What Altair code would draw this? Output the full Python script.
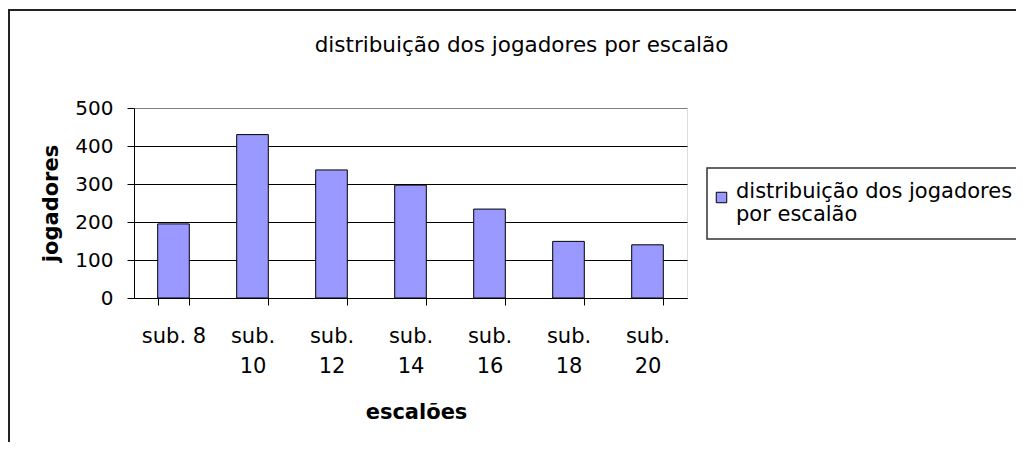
import altair as alt
import pandas as pd

categories = ["sub. 8", "sub. 10", "sub. 12", "sub. 14", "sub. 16", "sub. 18", "sub. 20"]
values = [195, 430, 337, 297, 234, 149, 140]
series_name = "distribuição dos jogadores por escalão"
chart_title = "distribuição dos jogadores por escalão"
x_title = "escalões"
y_title = "jogadores"
y_ticks = [0, 100, 200, 300, 400, 500]

FONT = "DejaVu Sans"

df = pd.DataFrame({
    "escalao": categories,
    "jogadores": values,
    "serie": [series_name] * len(categories),
})

bars = alt.Chart(df).mark_bar(stroke="black", strokeWidth=1, opacity=1).encode(
    x=alt.X(
        "escalao:N",
        sort=categories,
        scale=alt.Scale(paddingInner=0.6, paddingOuter=0.3),
        axis=alt.Axis(
            title=x_title,
            labelAngle=0,
            labelExpr="datum.label == 'sub. 8' ? datum.label : split(datum.label, ' ')",
            labelFont=FONT,
            labelFontSize=21,
            labelColor="black",
            labelBaseline="alphabetic",
            labelPadding=37,
            labelLineHeight=30,
            labelOverlap=False,
            tickBand="extent",
            tickSize=7,
            tickColor="black",
            domainColor="black",
            grid=False,
            titleFont=FONT,
            titleFontSize=21,
            titleFontWeight="bold",
            titleColor="black",
            titleBaseline="alphabetic",
            titleX=282,
            titleY=120,
        ),
    ),
    y=alt.Y(
        "jogadores:Q",
        scale=alt.Scale(domain=[0, 500], nice=False),
        axis=alt.Axis(
            title=y_title,
            values=y_ticks,
            labelFont=FONT,
            labelFontSize=20,
            labelColor="black",
            labelPadding=14,
            tickSize=7,
            tickColor="black",
            domainColor="black",
            grid=True,
            gridColor=alt.condition("datum.value == 500", alt.value("#808080"), alt.value("black")),
            gridOpacity=1,
            titleFont=FONT,
            titleFontSize=21,
            titleFontWeight="bold",
            titleColor="black",
            titleAngle=-90,
            titleBaseline="alphabetic",
            titleAlign="center",
            titleX=-77,
            titleY=95,
        ),
    ),
    color=alt.Color(
        "serie:N",
        scale=alt.Scale(range=["#9999ff"]),
        legend=alt.Legend(
            title=None,
            orient="none",
            legendX=577,
            legendY=79,
            padding=0,
            symbolType="square",
            symbolSize=110,
            symbolStrokeColor="black",
            symbolStrokeWidth=1,
            symbolOpacity=1,
            labelFont=FONT,
            labelFontSize=21,
            labelColor="black",
            labelLimit=1000,
            labelBaseline="alphabetic",
            labelOffset=4,
            labelExpr="[slice(datum.label, 0, 26), slice(datum.label, 27)]",
        ),
    ),
)

# chart frame and legend box (decoration)
frame = alt.Chart(pd.DataFrame({"f": [0]})).mark_rect(
    fillOpacity=0, stroke="#222222", strokeWidth=2
).encode(
    x=alt.value(-125),
    x2=alt.value(1100),
    y=alt.value(-98),
    y2=alt.value(600),
)

legend_box = alt.Chart(pd.DataFrame({"f": [0]})).mark_rect(
    fill="white", stroke="#333333", strokeWidth=1.5
).encode(
    x=alt.value(573),
    x2=alt.value(1100),
    y=alt.value(60),
    y2=alt.value(131),
)

chart = alt.layer(legend_box, bars, frame).properties(
    width=553,
    height=190,
    autosize=alt.AutoSizeParams(type="none"),
    padding={"left": 126, "top": 100, "right": 329, "bottom": 144},
    title=alt.TitleParams(
        text=chart_title,
        font=FONT,
        fontSize=21.5,
        fontWeight="normal",
        color="black",
        anchor="middle",
        frame="group",
        dx=111,
        baseline="alphabetic",
        offset=0,
        dy=64,
    ),
).configure_view(
    fill="#c0c0c0", stroke="#808080", strokeWidth=1
).configure(background="white")

chart.save("out.html", embed_options={"renderer": "svg", "actions": False})
